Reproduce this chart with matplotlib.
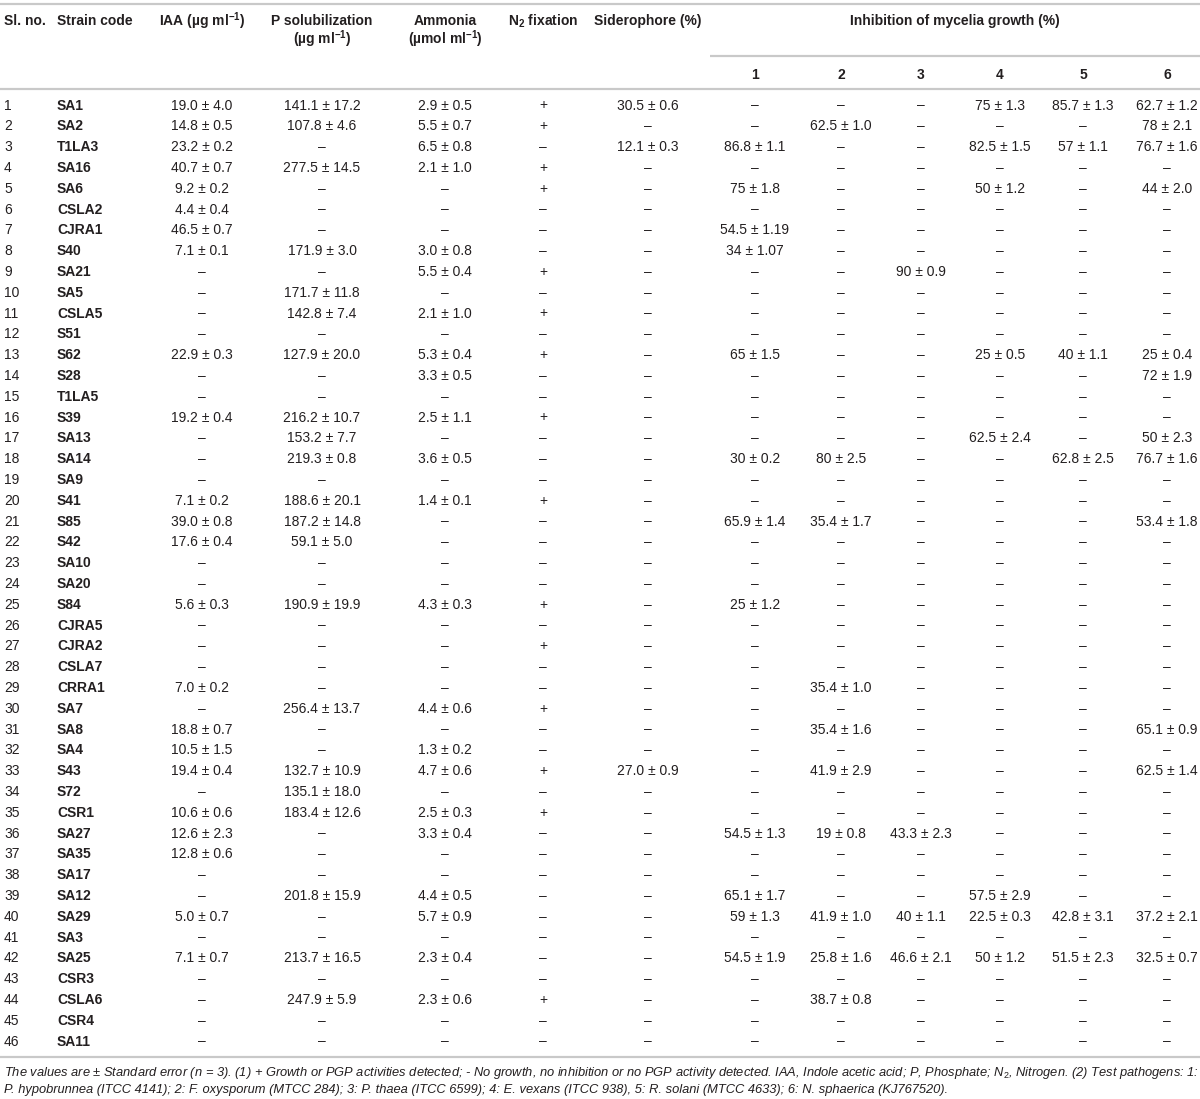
import matplotlib
matplotlib.use("Agg")
import matplotlib.pyplot as plt

plt.rcParams['font.family'] = ['Liberation Sans', 'DejaVu Sans']
plt.rcParams['mathtext.fontset'] = 'custom'
plt.rcParams['mathtext.rm'] = 'Liberation Sans'
plt.rcParams['mathtext.it'] = 'Liberation Sans:italic'
plt.rcParams['mathtext.bf'] = 'Liberation Sans:bold'

D = "–"
N = 46

strain_codes = ["SA1", "SA2", "T1LA3", "SA16", "SA6", "CSLA2", "CJRA1", "S40", "SA21", "SA5",
                "CSLA5", "S51", "S62", "S28", "T1LA5", "S39", "SA13", "SA14", "SA9", "S41",
                "S85", "S42", "SA10", "SA20", "S84", "CJRA5", "CJRA2", "CSLA7", "CRRA1", "SA7",
                "SA8", "SA4", "S43", "S72", "CSR1", "SA27", "SA35", "SA17", "SA12", "SA29",
                "SA3", "SA25", "CSR3", "CSLA6", "CSR4", "SA11"]

# sparse columns: {Sl. no.: "mean ± SE"}; everything else is "–"
iaa = {1: "19.0 ± 4.0", 2: "14.8 ± 0.5", 3: "23.2 ± 0.2", 4: "40.7 ± 0.7", 5: "9.2 ± 0.2",
       6: "4.4 ± 0.4", 7: "46.5 ± 0.7", 8: "7.1 ± 0.1", 13: "22.9 ± 0.3", 16: "19.2 ± 0.4",
       20: "7.1 ± 0.2", 21: "39.0 ± 0.8", 22: "17.6 ± 0.4", 25: "5.6 ± 0.3", 29: "7.0 ± 0.2",
       31: "18.8 ± 0.7", 32: "10.5 ± 1.5", 33: "19.4 ± 0.4", 35: "10.6 ± 0.6", 36: "12.6 ± 2.3",
       37: "12.8 ± 0.6", 40: "5.0 ± 0.7", 42: "7.1 ± 0.7"}
p_sol = {1: "141.1 ± 17.2", 2: "107.8 ± 4.6", 4: "277.5 ± 14.5", 8: "171.9 ± 3.0",
         10: "171.7 ± 11.8", 11: "142.8 ± 7.4", 13: "127.9 ± 20.0", 16: "216.2 ± 10.7",
         17: "153.2 ± 7.7", 18: "219.3 ± 0.8", 20: "188.6 ± 20.1", 21: "187.2 ± 14.8",
         22: "59.1 ± 5.0", 25: "190.9 ± 19.9", 30: "256.4 ± 13.7", 33: "132.7 ± 10.9",
         34: "135.1 ± 18.0", 35: "183.4 ± 12.6", 39: "201.8 ± 15.9", 42: "213.7 ± 16.5",
         44: "247.9 ± 5.9"}
ammonia = {1: "2.9 ± 0.5", 2: "5.5 ± 0.7", 3: "6.5 ± 0.8", 4: "2.1 ± 1.0", 8: "3.0 ± 0.8",
           9: "5.5 ± 0.4", 11: "2.1 ± 1.0", 13: "5.3 ± 0.4", 14: "3.3 ± 0.5", 16: "2.5 ± 1.1",
           18: "3.6 ± 0.5", 20: "1.4 ± 0.1", 25: "4.3 ± 0.3", 30: "4.4 ± 0.6", 32: "1.3 ± 0.2",
           33: "4.7 ± 0.6", 35: "2.5 ± 0.3", 36: "3.3 ± 0.4", 39: "4.4 ± 0.5", 40: "5.7 ± 0.9",
           42: "2.3 ± 0.4", 44: "2.3 ± 0.6"}
n2_fixation_positive = [1, 2, 4, 5, 9, 11, 13, 16, 20, 25, 27, 30, 33, 35, 44]
siderophore = {1: "30.5 ± 0.6", 3: "12.1 ± 0.3", 33: "27.0 ± 0.9"}
inhib1 = {3: "86.8 ± 1.1", 5: "75 ± 1.8", 7: "54.5 ± 1.19", 8: "34 ± 1.07", 13: "65 ± 1.5",
          18: "30 ± 0.2", 21: "65.9 ± 1.4", 25: "25 ± 1.2", 36: "54.5 ± 1.3", 39: "65.1 ± 1.7",
          40: "59 ± 1.3", 42: "54.5 ± 1.9"}
inhib2 = {2: "62.5 ± 1.0", 18: "80 ± 2.5", 21: "35.4 ± 1.7", 29: "35.4 ± 1.0", 31: "35.4 ± 1.6",
          33: "41.9 ± 2.9", 36: "19 ± 0.8", 40: "41.9 ± 1.0", 42: "25.8 ± 1.6", 44: "38.7 ± 0.8"}
inhib3 = {9: "90 ± 0.9", 36: "43.3 ± 2.3", 40: "40 ± 1.1", 42: "46.6 ± 2.1"}
inhib4 = {1: "75 ± 1.3", 3: "82.5 ± 1.5", 5: "50 ± 1.2", 13: "25 ± 0.5", 17: "62.5 ± 2.4",
          39: "57.5 ± 2.9", 40: "22.5 ± 0.3", 42: "50 ± 1.2"}
inhib5 = {1: "85.7 ± 1.3", 3: "57 ± 1.1", 13: "40 ± 1.1", 18: "62.8 ± 2.5", 40: "42.8 ± 3.1",
          42: "51.5 ± 2.3"}
inhib6 = {1: "62.7 ± 1.2", 2: "78 ± 2.1", 3: "76.7 ± 1.6", 5: "44 ± 2.0", 13: "25 ± 0.4",
          14: "72 ± 1.9", 17: "50 ± 2.3", 18: "76.7 ± 1.6", 21: "53.4 ± 1.8", 31: "65.1 ± 0.9",
          33: "62.5 ± 1.4", 40: "37.2 ± 2.1", 42: "32.5 ± 0.7"}
pathogen_labels = ["1", "2", "3", "4", "5", "6"]

footnote1 = ("The values are ± Standard error (n = 3). (1) + Growth or PGP activities detected; - No growth, "
             "no inhibition or no PGP activity detected. IAA, Indole acetic acid; P, Phosphate; N$_2$, Nitrogen. "
             "(2) Test pathogens: 1:")
footnote2 = ("P. hypobrunnea (ITCC 4141); 2: F. oxysporum (MTCC 284); 3: P. thaea (ITCC 6599); "
             "4: E. vexans (ITCC 938), 5: R. solani (MTCC 4633); 6: N. sphaerica (KJ767520).")

# ---------------- layout ----------------
W, H = 1200, 1099
fig = plt.figure(figsize=(W / 100, H / 100), dpi=100)
ax = fig.add_axes([0, 0, 1, 1])
ax.set_xlim(0, W)
ax.set_ylim(H, 0)
ax.axis('off')

TXT = '#231f20'
RULE = '#c9c9c9'
FS = 10
y_first, dy = 105.5, 20.8

x_sl, x_code = 4, 57
x_iaa, x_p, x_nh3, x_n2, x_sid = 202, 322, 445, 543, 648
x_inh = [755, 841, 921, 1000, 1083, 1167]

def rule(y, x0=0, x1=W):
    ax.plot([x0, x1], [y, y], color=RULE, lw=1.6, solid_capstyle='butt')

rule(4)
rule(56, 710, W)
rule(89)

hk = dict(fontsize=FS, fontweight='bold', color=TXT, va='center')
ax.text(x_sl, 21, "Sl. no.", ha='left', **hk)
ax.text(x_code, 21, "Strain code", ha='left', **hk)
ax.text(x_iaa, 21, r"IAA (µg ml$^{\mathbf{-1}}$)", ha='center', **hk)
ax.text(x_p, 21, "P solubilization", ha='center', **hk)
ax.text(x_p, 39, r"(µg ml$^{\mathbf{-1}}$)", ha='center', **hk)
ax.text(x_nh3, 21, "Ammonia", ha='center', **hk)
ax.text(x_nh3, 39, r"(µmol ml$^{\mathbf{-1}}$)", ha='center', **hk)
ax.text(x_n2, 21, r"N$_{\mathbf{2}}$ fixation", ha='center', **hk)
ax.text(x_sid, 21, "Siderophore (%)", ha='center', **hk)
ax.text(955, 21, "Inhibition of mycelia growth (%)", ha='center', **hk)
for xi, lab in zip(x_inh, pathogen_labels):
    ax.text(xi, 75, lab, ha='center', **hk)

bk = dict(fontsize=FS, color=TXT, va='center')
value_cols = [(x_iaa, iaa), (x_p, p_sol), (x_nh3, ammonia), (x_sid, siderophore),
              (x_inh[0], inhib1), (x_inh[1], inhib2), (x_inh[2], inhib3),
              (x_inh[3], inhib4), (x_inh[4], inhib5), (x_inh[5], inhib6)]
for i in range(N):
    sl = i + 1
    y = y_first + i * dy
    ax.text(x_sl, y, str(sl), ha='left', **bk)
    ax.text(x_code, y, strain_codes[i], ha='left', fontweight='bold', **bk)
    for xc, col in value_cols:
        ax.text(xc, y, col.get(sl, D), ha='center', **bk)
    ax.text(x_n2, y, "+" if sl in n2_fixation_positive else D, ha='center', **bk)

y_last = y_first + (N - 1) * dy
rule(y_last + 15.5)
fk = dict(fontsize=9.3, style='italic', color=TXT, va='center', ha='left')
ax.text(4, y_last + 31.5, footnote1, **fk)
ax.text(4, y_last + 48, footnote2, **fk)

fig.savefig("out.png", dpi=100)
